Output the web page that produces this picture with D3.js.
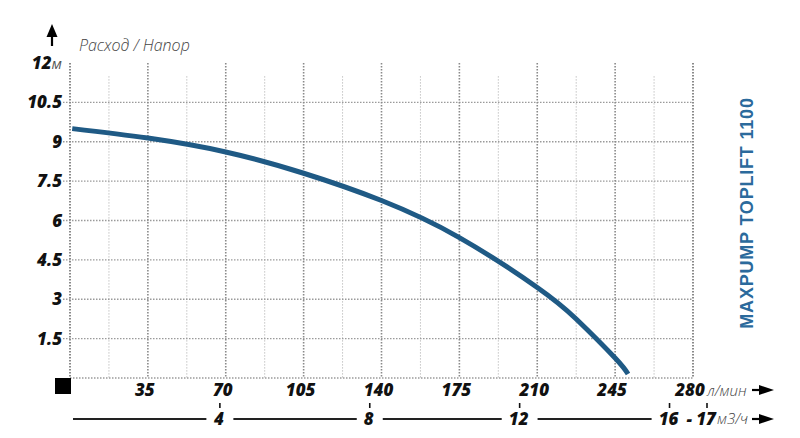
<!DOCTYPE html>
<html><head><meta charset="utf-8">
<script src="https://cdn.jsdelivr.net/npm/d3@7"></script>
<style>
body{margin:0;background:#fff;}
svg{display:block;}
</style></head>
<body>
<svg id="c" width="800" height="438"></svg>
<script>
// Data: flow (l/min) vs head (m)
const flow = [1, 35, 70, 105, 140, 175, 210, 227.5, 245, 250.8];
const head = [9.5, 9.14, 8.61, 7.8, 6.76, 5.35, 3.45, 2.25, 0.76, 0.15];
const xTicks = [35, 70, 105, 140, 175, 210, 245, 280];
const xMinor = [17.5, 52.5, 87.5, 122.5, 157.5, 192.5, 227.5, 262.5];
const yTicks = [1.5, 3, 4.5, 6, 7.5, 9, 10.5, 12];
const m3Ticks = [4, 8, 12, 16, 17];
const title = "MAXPUMP TOPLIFT 1100";
const yTitle = "Расход / Напор";

const svg = d3.select("#c");
const x = d3.scaleLinear().domain([0, 280]).range([70, 693]);
const y = d3.scaleLinear().domain([0, 12]).range([378, 63]);
const xm = d3.scaleLinear().domain([0, 17]).range([70, 707]);
const FONT = "'Open Sans', 'Noto Sans', sans-serif";

// minor vertical grid
svg.append("g").selectAll("line").data(xMinor).join("line")
  .attr("x1", d => x(d)).attr("x2", d => x(d))
  .attr("y1", y(11.5)).attr("y2", y(0))
  .attr("stroke", "#c4c4c4").attr("stroke-width", 1).attr("stroke-dasharray", "1.5,1.5");
// horizontal grid
svg.append("g").selectAll("line").data([0].concat(yTicks.filter(d => d < 12))).join("line")
  .attr("x1", d => d === 0 ? x(0) : 63).attr("x2", x(280))
  .attr("y1", d => y(d)).attr("y2", d => y(d))
  .attr("stroke", "#9a9a9a").attr("stroke-width", 1.3).attr("stroke-dasharray", "1.5,1.5");
// major vertical grid
svg.append("g").selectAll("line").data([0].concat(xTicks)).join("line")
  .attr("x1", d => x(d)).attr("x2", d => x(d))
  .attr("y1", y(12)).attr("y2", y(0))
  .attr("stroke", "#8a8a8a").attr("stroke-width", d => (d === 0 || d === 280) ? 2 : 1.6)
  .attr("stroke-dasharray", "1.5,1.5");

// curve
const pts = flow.map((f, i) => [f, head[i]]);
svg.append("path").datum(pts)
  .attr("d", d3.line().x(d => x(d[0])).y(d => y(d[1])).curve(d3.curveNatural))
  .attr("fill", "none").attr("stroke", "#1f5a85").attr("stroke-width", 5).attr("stroke-linecap", "butt");

// y labels
const yl = svg.append("g").selectAll("text").data(yTicks).join("text")
  .attr("x", 62).attr("y", d => y(d)).attr("dy", "0.36em")
  .attr("text-anchor", "end")
  .attr("font-family", FONT).attr("font-style", "italic").attr("font-weight", 800)
  .attr("font-size", 17).attr("fill", "#111");
yl.each(function(d) {
  const t = d3.select(this);
  if (d === 12) {
    t.append("tspan").text("12");
    t.append("tspan").text("м").attr("font-weight", 400).attr("font-size", 15).attr("fill", "#555");
  } else t.text(d);
});

// origin square
svg.append("rect").attr("x", 55).attr("y", y(0)).attr("width", 16).attr("height", 16).attr("fill", "#000");

// up arrow
svg.append("path").attr("d", d3.line()([[46.5, 37], [52, 24], [57.5, 37]]) + "Z").attr("fill", "#000");
svg.append("line").attr("x1", 52).attr("x2", 52).attr("y1", 34).attr("y2", 46).attr("stroke", "#000").attr("stroke-width", 2.2);

svg.append("text").attr("x", 79).attr("y", 51).text(yTitle)
  .attr("font-family", FONT).attr("font-style", "italic").attr("font-weight", 300)
  .attr("font-size", 16).attr("fill", "#444");

// x labels (l/min)
svg.append("g").selectAll("text").data(xTicks).join("text")
  .attr("x", d => x(d) - 3).attr("y", 396)
  .attr("text-anchor", "middle")
  .attr("font-family", FONT).attr("font-style", "italic").attr("font-weight", 800)
  .attr("font-size", 17).attr("fill", "#111").text(d => d);
svg.append("text").attr("x", x(280) + 14).attr("y", 396).text("л/мин")
  .attr("font-family", FONT).attr("font-style", "italic").attr("font-weight", 300)
  .attr("font-size", 15).attr("fill", "#444");

function arrow(yy) {
  svg.append("line").attr("x1", 752).attr("x2", 764).attr("y1", yy).attr("y2", yy).attr("stroke", "#000").attr("stroke-width", 2.2);
  svg.append("path").attr("d", d3.line()([[759, yy - 5], [774, yy], [759, yy + 5]]) + "Z").attr("fill", "#000");
}
arrow(390);
arrow(419);

// m3/h axis
const yAx = 419;
svg.append("g").selectAll("line").data(m3Ticks).join("line")
  .attr("x1", d => xm(d)).attr("x2", d => xm(d)).attr("y1", 403).attr("y2", 408)
  .attr("stroke", "#111").attr("stroke-width", 1.6);
const ml = svg.append("g").selectAll("text").data(m3Ticks).join("text")
  .attr("x", d => xm(d) - 1).attr("y", yAx).attr("dy", "0.36em")
  .attr("text-anchor", "middle")
  .attr("font-family", FONT).attr("font-style", "italic").attr("font-weight", 800)
  .attr("font-size", 17).attr("fill", "#111").text(d => d);
svg.append("text").attr("x", (xm(16) + xm(17)) / 2 + 1).attr("y", yAx).attr("dy", "0.36em")
  .attr("text-anchor", "middle").text("-")
  .attr("font-family", FONT).attr("font-style", "italic").attr("font-weight", 800)
  .attr("font-size", 17).attr("fill", "#111");
svg.append("text").attr("x", xm(17) + 10).attr("y", yAx).attr("dy", "0.36em").text("м3/ч")
  .attr("font-family", FONT).attr("font-style", "italic").attr("font-weight", 300)
  .attr("font-size", 15).attr("fill", "#444");

// segments between labels
const widths = [];
ml.each(function() { widths.push(this.getBBox().width); });
const segs = [];
let start = x(0) + 3;
m3Ticks.slice(0, 4).forEach((d, i) => {
  segs.push([start, xm(d) - widths[i] / 2 - 8]);
  start = xm(d) + widths[i] / 2 + 8;
});
svg.append("g").selectAll("line").data(segs).join("line")
  .attr("x1", d => d[0]).attr("x2", d => d[1]).attr("y1", yAx).attr("y2", yAx)
  .attr("stroke", "#222").attr("stroke-width", 2);

// title
svg.append("text").attr("transform", "translate(753,213) rotate(-90)")
  .attr("text-anchor", "middle").text(title)
  .attr("font-family", "'Liberation Sans', Arial, sans-serif").attr("font-weight", 700)
  .attr("font-size", 18).attr("letter-spacing", 0.8).attr("fill", "#2b6a9c");
</script>
</body></html>
